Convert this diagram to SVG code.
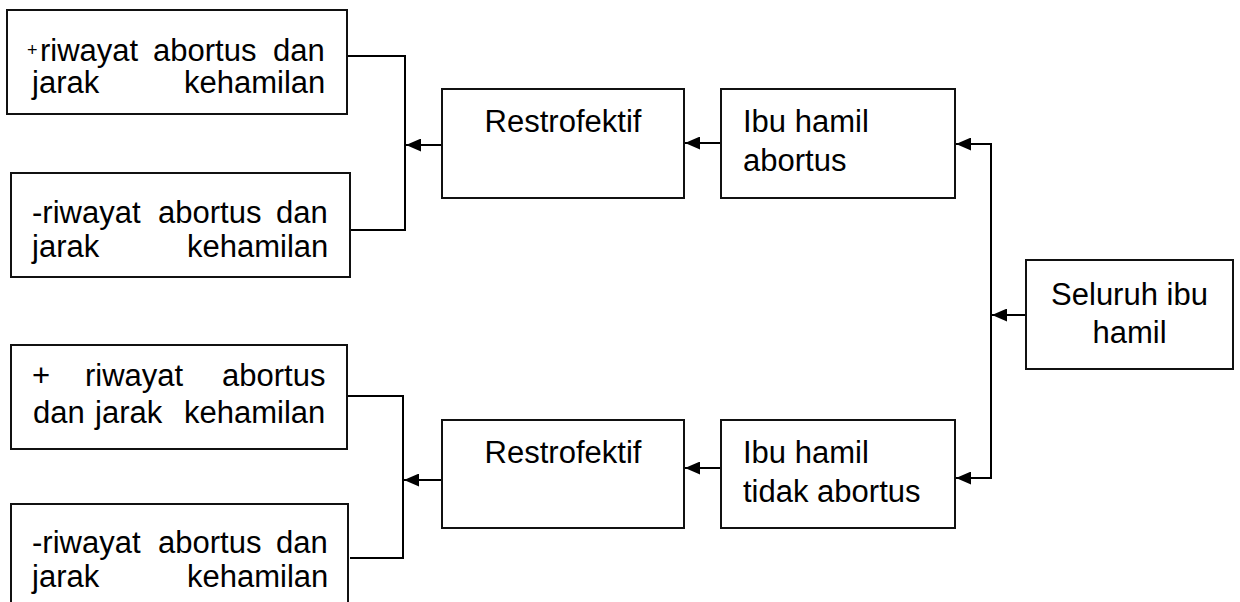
<svg xmlns="http://www.w3.org/2000/svg" width="1240" height="602" viewBox="0 0 1240 602">
  <style>
    .box { fill: #ffffff; stroke: #111111; stroke-width: 2; }
    .t { font-family: "Liberation Sans", Arial, sans-serif; font-size: 31px; fill: #000000; }
    .mid { text-anchor: middle; }
    .small { font-size: 18px; }
    .conn { fill: none; stroke: #000000; stroke-width: 2; }
    .arr { fill: none; stroke: #000000; stroke-width: 2; marker-end: url(#ah); }
  </style>
  <defs>
    <marker id="ah" markerUnits="userSpaceOnUse" markerWidth="16" markerHeight="13" refX="15" refY="6.5" orient="auto">
      <path d="M0,0 L15,6.5 L0,13 z" fill="#000000"/>
    </marker>
  </defs>
  <rect x="0" y="0" width="1240" height="602" fill="#ffffff"/>

  <g id="connectors">
    <polyline class="conn" points="347,56 405,56 405,230 350,230"/>
    <line class="arr" x1="442" y1="145" x2="406" y2="145"/>
    <line class="arr" x1="721" y1="143" x2="685" y2="143"/>
    <line class="arr" x1="991" y1="144" x2="956" y2="144"/>
    <line class="conn" x1="991" y1="143" x2="991" y2="479"/>
    <line class="arr" x1="1026" y1="315" x2="992" y2="315"/>
    <line class="arr" x1="991" y1="478" x2="956" y2="478"/>
    <line class="arr" x1="721" y1="468" x2="685" y2="468"/>
    <line class="arr" x1="442" y1="480" x2="404" y2="480"/>
    <polyline class="conn" points="347,396 403,396 403,558 350,558"/>
  </g>

  <g id="node-pos-riwayat-1">
    <rect class="box" x="7" y="10" width="340" height="104"/>
    <text class="t"><tspan class="small" x="27" y="56">+</tspan><tspan x="40" y="61">riwayat</tspan><tspan x="153" y="61">abortus</tspan><tspan x="273" y="61">dan</tspan></text>
    <text class="t"><tspan x="32" y="93">jarak</tspan><tspan x="184" y="93">kehamilan</tspan></text>
  </g>

  <g id="node-neg-riwayat-1">
    <rect class="box" x="11" y="173" width="339" height="104"/>
    <text class="t"><tspan x="32" y="223">-riwayat</tspan><tspan x="158" y="223">abortus</tspan><tspan x="276" y="223">dan</tspan></text>
    <text class="t"><tspan x="32" y="257">jarak</tspan><tspan x="187" y="257">kehamilan</tspan></text>
  </g>

  <g id="node-pos-riwayat-2">
    <rect class="box" x="11" y="345" width="336" height="104"/>
    <text class="t"><tspan x="32" y="386">+</tspan><tspan x="85" y="386">riwayat</tspan><tspan x="222" y="386">abortus</tspan></text>
    <text class="t"><tspan x="33" y="423">dan</tspan><tspan x="95" y="423">jarak</tspan><tspan x="184" y="423">kehamilan</tspan></text>
  </g>

  <g id="node-neg-riwayat-2">
    <rect class="box" x="11" y="504" width="337" height="120"/>
    <text class="t"><tspan x="32" y="553">-riwayat</tspan><tspan x="158" y="553">abortus</tspan><tspan x="276" y="553">dan</tspan></text>
    <text class="t"><tspan x="32" y="587">jarak</tspan><tspan x="187" y="587">kehamilan</tspan></text>
  </g>

  <g id="node-restrofektif-1">
    <rect class="box" x="442" y="89" width="242" height="109"/>
    <text class="t mid" x="563" y="132">Restrofektif</text>
  </g>

  <g id="node-ibu-hamil-abortus">
    <rect class="box" x="721" y="89" width="234" height="109"/>
    <text class="t"><tspan x="743" y="132">Ibu hamil</tspan><tspan x="743" y="171">abortus</tspan></text>
  </g>

  <g id="node-restrofektif-2">
    <rect class="box" x="442" y="420" width="242" height="108"/>
    <text class="t mid" x="563" y="463">Restrofektif</text>
  </g>

  <g id="node-ibu-hamil-tidak-abortus">
    <rect class="box" x="721" y="420" width="234" height="108"/>
    <text class="t"><tspan x="743" y="463">Ibu hamil</tspan><tspan x="743" y="502">tidak abortus</tspan></text>
  </g>

  <g id="node-seluruh-ibu-hamil">
    <rect class="box" x="1026" y="260" width="207" height="109"/>
    <text class="t mid"><tspan x="1129.5" y="305">Seluruh ibu</tspan><tspan x="1129.5" y="343">hamil</tspan></text>
  </g>
</svg>
